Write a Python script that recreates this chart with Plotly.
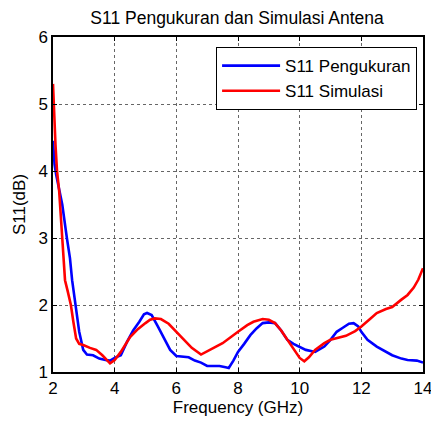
import plotly.graph_objects as go

# Measured S11 (frequency in GHz, magnitude in dB)
freq_meas = [2.0, 2.05, 2.1, 2.2, 2.3, 2.45, 2.55, 2.62, 2.72, 2.85, 2.98, 3.1, 3.3, 3.5, 3.7, 3.85, 4.0, 4.2,
             4.4, 4.6, 4.8, 4.95, 5.05, 5.2, 5.4, 5.6, 5.8, 6.0, 6.2, 6.4, 6.6, 6.8, 7.0, 7.2, 7.4, 7.6, 7.7,
             7.85, 8.0, 8.2, 8.4, 8.6, 8.8, 9.0, 9.2, 9.4, 9.6, 9.8, 10.0, 10.2, 10.5, 10.8, 11.0, 11.2,
             11.4, 11.6, 11.75, 11.9, 12.0, 12.2, 12.5, 12.8, 13.0, 13.3, 13.5, 13.8, 14.0]
s11_meas = [4.45, 4.1, 3.95, 3.7, 3.5, 3.0, 2.7, 2.37, 2.0, 1.6, 1.33, 1.26, 1.25, 1.2, 1.18, 1.17, 1.21, 1.25,
            1.45, 1.62, 1.75, 1.86, 1.88, 1.85, 1.68, 1.5, 1.33, 1.24, 1.23, 1.22, 1.17, 1.14, 1.09, 1.09, 1.09, 1.07, 1.06,
            1.17, 1.3, 1.42, 1.55, 1.65, 1.73, 1.74, 1.73, 1.62, 1.48, 1.42, 1.38, 1.33, 1.3, 1.38, 1.48, 1.6,
            1.66, 1.72, 1.73, 1.68, 1.6, 1.48, 1.38, 1.3, 1.25, 1.2, 1.18, 1.17, 1.14]

# Simulated S11
freq_sim = [2.0, 2.04, 2.08, 2.13, 2.2, 2.3, 2.39, 2.48, 2.58, 2.66, 2.75, 2.85, 3.0, 3.2, 3.4, 3.6, 3.75, 3.85,
            4.0, 4.2, 4.5, 4.75, 5.0, 5.15, 5.3, 5.5, 5.75, 6.0, 6.25, 6.5, 6.8, 7.1, 7.5, 8.0, 8.3, 8.5,
            8.8, 9.0, 9.2, 9.4, 9.6, 9.8, 10.0, 10.15, 10.3, 10.5, 10.8, 11.0, 11.3, 11.5, 11.8, 12.0,
            12.3, 12.5, 12.8, 13.0, 13.3, 13.5, 13.7, 13.85, 14.0]
s11_sim = [5.3, 4.8, 4.4, 4.0, 3.7, 3.0, 2.37, 2.2, 2.0, 1.75, 1.5, 1.42, 1.4, 1.36, 1.33, 1.25, 1.17, 1.13,
           1.18, 1.3, 1.52, 1.64, 1.73, 1.78, 1.8, 1.79, 1.72, 1.6, 1.48, 1.36, 1.26, 1.33, 1.43, 1.6, 1.7, 1.75,
           1.79, 1.78, 1.73, 1.62, 1.48, 1.33, 1.21, 1.16, 1.22, 1.33, 1.43, 1.48, 1.52, 1.54, 1.61, 1.68,
           1.8, 1.88, 1.94, 1.97, 2.08, 2.15, 2.26, 2.38, 2.55]

FONT = "Liberation Sans, Arial, sans-serif"

fig = go.Figure()
fig.add_trace(go.Scatter(x=freq_meas, y=s11_meas, mode="lines", name="S11 Pengukuran",
                         line=dict(color="#0000FF", width=2.6)))
fig.add_trace(go.Scatter(x=freq_sim, y=s11_sim, mode="lines", name="S11 Simulasi",
                         line=dict(color="#FF0000", width=2.6)))

axis_common = dict(
    showline=True, linecolor="black", linewidth=1.5, mirror="allticks",
    ticks="inside", ticklen=4, tickcolor="black",
    showgrid=True, gridcolor="#666666", griddash="dot", gridwidth=1,
    zeroline=False, automargin=False, ticklabeloverflow="allow",
    tickfont=dict(family=FONT, size=17, color="black"),
)

fig.update_xaxes(range=[2, 14], tickvals=[2, 4, 6, 8, 10, 12, 14],
                 title=dict(text="Frequency (GHz)", standoff=4,
                            font=dict(family=FONT, size=17, color="black")),
                 **axis_common)
fig.update_yaxes(range=[1, 6], tickvals=[1, 2, 3, 4, 5, 6],
                 title=dict(text="S11(dB)", standoff=8,
                            font=dict(family=FONT, size=17, color="black")),
                 **axis_common)

fig.update_layout(
    width=431, height=421,
    margin=dict(l=53, r=8, t=37, b=49),
    paper_bgcolor="white", plot_bgcolor="white",
    title=dict(text="S11 Pengukuran dan Simulasi Antena", x=0.55, xanchor="center",
               y=0.957, yanchor="middle",
               font=dict(family=FONT, size=17.5, color="black")),
    legend=dict(x=0.984, y=0.97, xanchor="right", yanchor="top",
                bgcolor="white", bordercolor="black", borderwidth=1,
                font=dict(family=FONT, size=17, color="black"),
                itemwidth=58, tracegroupgap=0),
    showlegend=True,
)

fig.write_html("out.html")
